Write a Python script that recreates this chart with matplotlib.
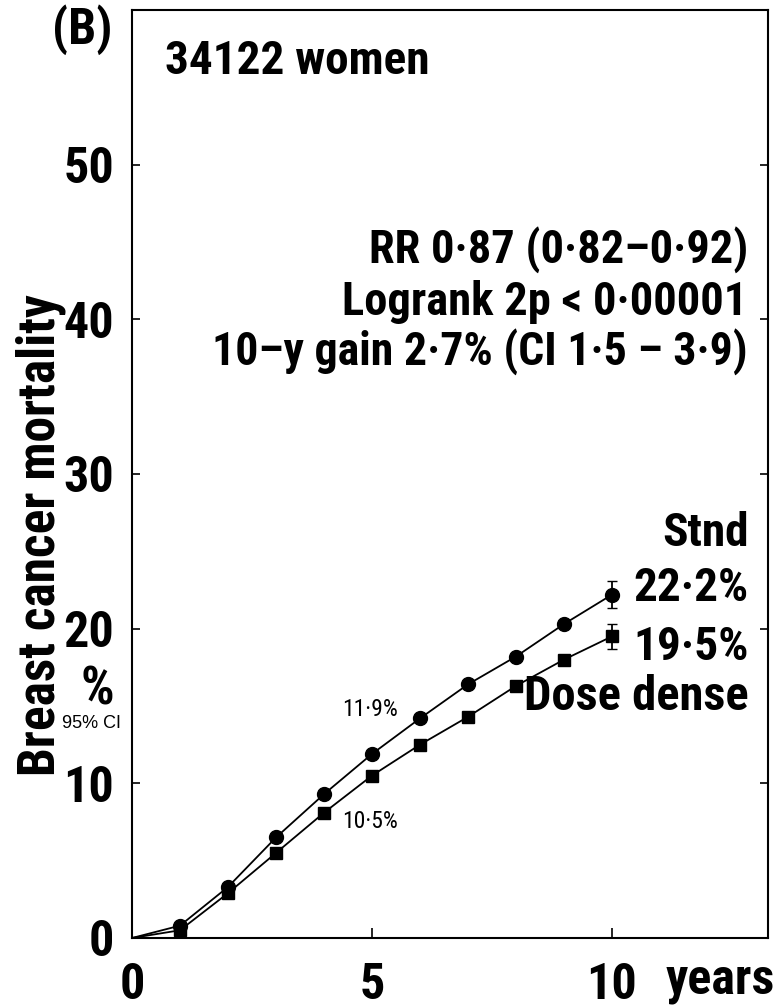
import matplotlib
matplotlib.use('Agg')
import matplotlib.pyplot as plt

# data
years = [0, 1, 2, 3, 4, 5, 6, 7, 8, 9, 10]
stnd = [0, 0.8, 3.3, 6.5, 9.3, 11.9, 14.2, 16.4, 18.2, 20.3, 22.2]
dose_dense = [0, 0.5, 2.9, 5.5, 8.1, 10.5, 12.5, 14.3, 16.3, 18.0, 19.5]
ci_stnd = 0.85
ci_dd = 0.8
yticks = [0, 10, 20, 30, 40, 50]
xticks = [0, 5, 10]

plt.rcParams['font.family'] = ['Roboto Condensed', 'DejaVu Sans']
plt.rcParams['font.weight'] = 'bold'

fig = plt.figure(figsize=(7.82, 10.07), dpi=100)
ax = fig.add_axes([132/782, 1-938/1007, (768-132)/782, (938-10)/1007])

ax.plot(years, stnd, color='black', lw=1.3, marker='o', ms=10, markevery=list(range(1, 11)))
ax.plot(years, dose_dense, color='black', lw=1.3, marker='s', ms=9, markevery=list(range(1, 11)))
ax.errorbar(years[-1], stnd[-1], yerr=ci_stnd, color='black', capsize=3.6, lw=1.3)
ax.errorbar(years[-1], dose_dense[-1], yerr=ci_dd, color='black', capsize=3.6, lw=1.3)

ax.set_xlim(0, 13.25)
ax.set_ylim(0, 60)
ax.set_xticks(xticks)
ax.set_yticks(yticks)
ax.tick_params(axis='y', direction='in', length=6, width=1.2, right=True, pad=13, labelsize=36)
ax.tick_params(axis='x', direction='in', length=7, width=1.2, pad=17, labelsize=36)
for s in ax.spines.values():
    s.set_linewidth(1.5)

big = 34
ax.text(0.69, 56.7, '34122 women', fontsize=34, ha='left', va='center')
ax.text(12.83, 44.5, 'RR 0·87 (0·82–0·92)', fontsize=33.5, ha='right', va='center')
ax.text(12.83, 41.1, 'Logrank 2p < 0·00001', fontsize=33.5, ha='right', va='center')
ax.text(12.83, 37.9, '10–y gain 2·7% (CI 1·5 – 3·9)', fontsize=33, ha='right', va='center')
ax.text(12.85, 26.2, 'Stnd', fontsize=big, ha='right', va='center')
ax.text(12.85, 22.6, '22·2%', fontsize=big, ha='right', va='center')
ax.text(12.85, 18.8, '19·5%', fontsize=big, ha='right', va='center')
ax.text(12.85, 15.6, 'Dose dense', fontsize=big + 1, ha='right', va='center')
ax.text(4.96, 14.8, '11·9%', fontsize=17, fontweight='normal', ha='center', va='center')
ax.text(4.96, 7.5, '10·5%', fontsize=17, fontweight='normal', ha='center', va='center')

fig.text(41/782, 1-535/1007, 'Breast cancer mortality', fontsize=37, rotation=90,
         ha='center', va='center')
fig.text(97/782, 1-690/1007, '%', fontsize=38, ha='center', va='center')
fig.text(91/782, 1-724/1007, '95% CI', fontsize=13, fontweight='normal',
         family=['Liberation Sans', 'DejaVu Sans'], ha='center', va='center')
fig.text(82/782, 1-30/1007, '(B)', fontsize=36, ha='center', va='center')
fig.text(720/782, 1-980/1007, 'years', fontsize=36, ha='center', va='center')

fig.savefig('out.png', dpi=100)
